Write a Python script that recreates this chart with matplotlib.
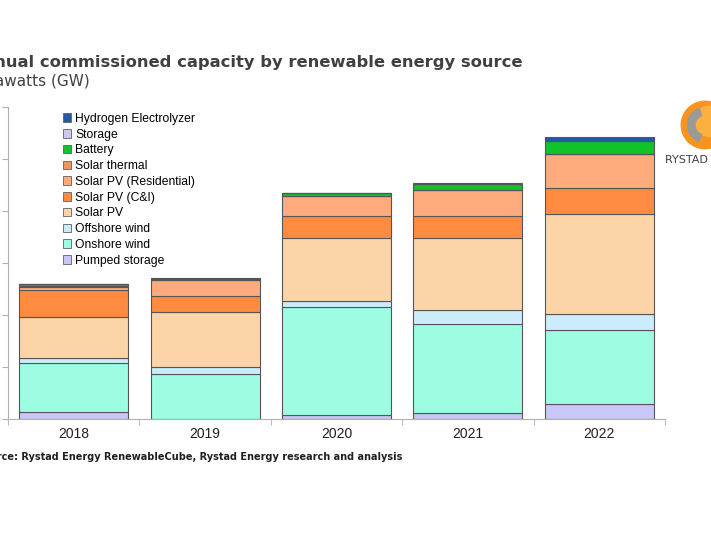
import matplotlib
matplotlib.use("Agg")
import matplotlib.pyplot as plt
from matplotlib.patches import Patch, Circle, Wedge
import numpy as np

# values in GW
years = ["2018", "2019", "2020", "2021", "2022"]
pumped_storage = [14, 0, 8, 12, 29]
onshore_wind = [94, 86.5, 207, 170.5, 142]
offshore_wind = [8.5, 13, 11.5, 27.5, 31]
solar_pv = [80, 107, 122.5, 138.5, 192]
solar_ci = [51, 31, 41, 41, 50]
solar_res = [6, 30, 38.5, 50, 65]
solar_thermal = [2, 0, 0, 0, 0]
battery = [5, 2, 6, 12.5, 25]
storage = [0, 0, 0, 0, 0]
hydrogen = [0, 1, 0.5, 2.5, 8]

series = [
    ("Pumped storage", pumped_storage, "#c9c7f7"),
    ("Onshore wind", onshore_wind, "#9cfde3"),
    ("Offshore wind", offshore_wind, "#ccecfb"),
    ("Solar PV", solar_pv, "#fdd4a8"),
    ("Solar PV (C&I)", solar_ci, "#fe8b3f"),
    ("Solar PV (Residential)", solar_res, "#fdab7d"),
    ("Solar thermal", solar_thermal, "#f3935e"),
    ("Battery", battery, "#11c22b"),
    ("Storage", storage, "#c8c8ee"),
    ("Hydrogen Electrolyzer", hydrogen, "#2559a8"),
]

fig = plt.figure(figsize=(7.11, 5.33), dpi=100)
ax = fig.add_axes([8 / 711, 1 - 419 / 533, 657 / 711, 312 / 533])

x = np.arange(len(years))
bottom = np.zeros(len(years))
for name, vals, col in series:
    vals = np.array(vals, dtype=float)
    ax.bar(x, vals, 0.83, bottom=bottom, color=col, edgecolor="#555555",
           linewidth=0.8)
    bottom += vals

ax.set_xlim(-0.5, 4.5)
ax.set_ylim(0, 600)
# the value labels sit left of the crop in the picture, so none are drawn
ax.set_yticks(np.arange(0, 601, 100))
ax.set_yticklabels([])
ax.tick_params(axis="y", length=4, color="#b0b0b0")
ax.set_xticks(x)
ax.set_xticklabels(years, fontsize=10, color="#202020",
                   family="Liberation Sans")
ax.set_xticks(np.arange(-0.5, 4.6, 1), minor=True)
ax.tick_params(axis="x", which="major", length=0, pad=6)
ax.tick_params(axis="x", which="minor", length=4, color="#b0b0b0")
for s in ["top", "right"]:
    ax.spines[s].set_visible(False)
for s in ["left", "bottom"]:
    ax.spines[s].set_color("#b0b0b0")

handles = [Patch(facecolor=c, edgecolor="#606060", linewidth=0.6, label=n)
           for n, v, c in series[::-1]]
fig.legend(handles=handles, loc="upper left",
           bbox_to_anchor=(58 / 711, 1 - 108 / 533), frameon=False,
           prop={"family": "Liberation Sans", "size": 8.7},
           handlelength=0.7, handleheight=0.7,
           handletextpad=0.3, labelspacing=0.31, borderaxespad=0)

fig.text(523 / 711, 1 - 63 / 533,
         "Annual commissioned capacity by renewable energy source",
         ha="right", va="center", fontsize=11.8, fontweight="bold",
         color="#404040")
fig.text(90 / 711, 1 - 81 / 533, "Gigawatts (GW)", ha="right", va="center",
         fontsize=11, color="#404040")
fig.text(402 / 711, 1 - 457 / 533,
         "Source: Rystad Energy RenewableCube, Rystad Energy research and analysis",
         ha="right", va="center", fontsize=7, fontweight="bold",
         color="#202020")

# logo, cut by the right edge like in the picture
lax = fig.add_axes([680 / 711, 1 - 150 / 533, 50 / 711, 50 / 533])
lax.set_xlim(-1, 1)
lax.set_ylim(-1, 1)
lax.set_aspect("equal")
lax.axis("off")
lax.add_patch(Circle((0, 0), 0.95, color="#f7941d"))
lax.add_patch(Circle((0.15, 0.15), 0.6, color="#fbb040"))
lax.add_patch(Wedge((0, 0), 0.7, 110, 250, width=0.3, color="#9a9a9a"))
fig.text(665 / 711, 1 - 160 / 533, "RYSTAD ENERGY", ha="left", va="center",
         fontsize=8, color="#404040")

fig.savefig("out.png", dpi=100)
